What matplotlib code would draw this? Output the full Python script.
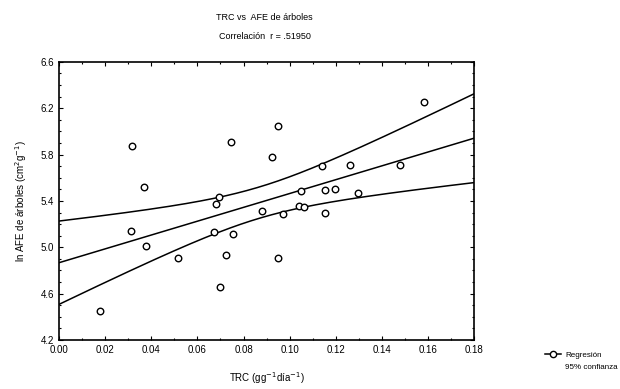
import numpy as np
import matplotlib
matplotlib.use("Agg")
import matplotlib.pyplot as plt
from matplotlib.ticker import MultipleLocator
from matplotlib.lines import Line2D

plt.rcParams['font.family'] = ['Liberation Sans', 'DejaVu Sans']

# TRC (gg-1 dia-1) vs ln AFE de arboles
trc = [0.0318, 0.0746, 0.0949, 0.0923, 0.0369, 0.0693, 0.0681, 0.1142,
       0.1261, 0.1050, 0.1154, 0.1197, 0.1296, 0.0880, 0.0973, 0.1040,
       0.1061, 0.1154, 0.0314, 0.0671, 0.0755, 0.0377, 0.0516, 0.0726,
       0.0950, 0.0697, 0.0178, 0.1580, 0.1479]
ln_afe = [5.877, 5.912, 6.047, 5.777, 5.518, 5.437, 5.374, 5.702,
          5.711, 5.486, 5.495, 5.506, 5.472, 5.314, 5.285, 5.359,
          5.351, 5.294, 5.144, 5.135, 5.113, 5.014, 4.905, 4.934,
          4.908, 4.655, 4.453, 6.255, 5.708]

x_ticks = [0.00, 0.02, 0.04, 0.06, 0.08, 0.10, 0.12, 0.14, 0.16, 0.18]
y_ticks = [4.2, 4.6, 5.0, 5.4, 5.8, 6.2, 6.6]

x = np.array(trc)
y = np.array(ln_afe)
n = len(x)

# linear fit + 95% band of the mean
b, a = np.polyfit(x, y, 1)
resid = y - (a + b * x)
s = np.sqrt(np.sum(resid ** 2) / (n - 2))
t_val = 2.052  # t(0.975, 27)
xs = np.linspace(0, 0.18, 200)
fit = a + b * xs
se = s * np.sqrt(1.0 / n + (xs - x.mean()) ** 2 / np.sum((x - x.mean()) ** 2))

fig = plt.figure(figsize=(6.2, 3.89), dpi=100)
ax = fig.add_axes([0.095, 0.126, 0.67, 0.715])

ax.plot(xs, fit, color='black', lw=1.1)
ax.plot(xs, fit + t_val * se, color='black', lw=1.1)
ax.plot(xs, fit - t_val * se, color='black', lw=1.1)
ax.scatter(x, y, s=22, facecolors='white', edgecolors='black', linewidths=1.0, zorder=3)

ax.set_xlim(0, 0.18)
ax.set_ylim(4.2, 6.6)
ax.set_xticks(x_ticks)
ax.set_xticklabels(['%.2f' % v for v in x_ticks])
ax.set_yticks(y_ticks)
ax.set_yticklabels(['%.1f' % v for v in y_ticks])
ax.xaxis.set_minor_locator(MultipleLocator(0.01))
ax.yaxis.set_minor_locator(MultipleLocator(0.1))
ax.tick_params(which='both', direction='in', top=True, right=True, labelsize=7, width=0.8)
ax.tick_params(which='major', length=3)
ax.tick_params(which='minor', length=1.5)
for sp in ax.spines.values():
    sp.set_linewidth(1.2)

ax.set_xlabel('TRC (gg$^{-1}$día$^{-1}$)', fontsize=7, labelpad=11)
ax.set_ylabel('ln AFE de árboles (cm$^{2}$g$^{-1}$)', fontsize=7, labelpad=8)

fig.text(0.427, 0.955, 'TRC vs  AFE de árboles', ha='center', va='center', fontsize=6.5)
fig.text(0.427, 0.905, 'Correlación  r = .51950', ha='center', va='center', fontsize=6.5)

handles = [Line2D([], [], color='black', lw=1.1, marker='o', markersize=4.5,
                  markerfacecolor='white', markeredgecolor='black'),
           Line2D([], [], color='none')]
fig.legend(handles, ['Regresión', '95% confianza'], loc='lower right',
           bbox_to_anchor=(0.998, 0.045), borderaxespad=0, borderpad=0.1,
           frameon=False, fontsize=5.8, handlelength=2.0, handletextpad=0.5,
           labelspacing=0.5)

fig.savefig('out.png', dpi=100)
